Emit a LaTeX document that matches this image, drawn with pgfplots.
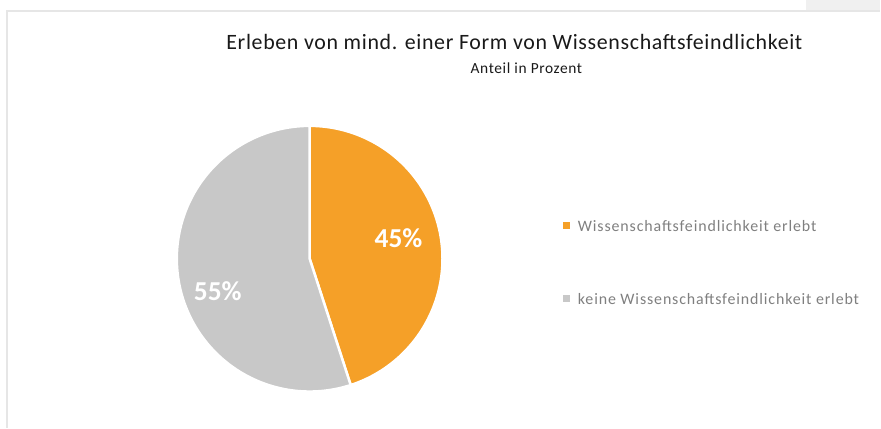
\documentclass[border=0pt]{standalone}
\usepackage{pgfplots}
\pgfplotsset{compat=1.18}
\usepackage{fontspec}
\setmainfont{Carlito}
\newfontfamily\titlefont[LetterSpace=3]{Carlito}
\newfontfamily\legfont[LetterSpace=5.5]{Carlito}
\newfontfamily\subfont[LetterSpace=4]{Carlito}
\definecolor{pieorange}{HTML}{F5A028}
\definecolor{piegray}{HTML}{C8C8C8}
\definecolor{legtext}{HTML}{7F7F7F}
\definecolor{framec}{HTML}{E6E6E6}
\definecolor{topbox}{HTML}{F0F0F0}
\begin{document}
\begin{tikzpicture}
\begin{axis}[
  width=881bp, height=428bp, scale only axis,
  xmin=0, xmax=881, ymin=0, ymax=428,
  hide axis, clip=false,
]
% full canvas for the bounding box
\path (axis cs:0,0) rectangle (axis cs:881,428);
% decoration: frame
\fill[topbox] (axis cs:807,418) rectangle (axis cs:881,428);
\draw[framec, line width=2bp] (axis cs:7,0) -- (axis cs:7,417) -- (axis cs:881,417);
% pie: 45 % / 55 %, centre (310,169), radius 133
\addplot[fill=pieorange, draw=white, line width=2.5bp, domain=90-3.6*45:90, samples=120, variable=\t]
  ({310+133*cos(\t)},{169+133*sin(\t)}) -- (axis cs:310,169) -- cycle;
\addplot[fill=piegray, draw=white, line width=2.5bp, domain=90-360:90-3.6*45, samples=140, variable=\t]
  ({310+133*cos(\t)},{169+133*sin(\t)}) -- (axis cs:310,169) -- cycle;
% labels
\node[white, font=\fontsize{27.5}{30}\selectfont\bfseries] at (axis cs:399,190) {45\%};
\node[white, font=\fontsize{27.5}{30}\selectfont\bfseries] at (axis cs:218,136) {55\%};
% titles
\node[black!90, font=\titlefont\fontsize{22}{26}\selectfont] at (axis cs:515,386) {Erleben von mind. einer Form von Wissenschaftsfeindlichkeit};
\node[black!90, font=\subfont\fontsize{15.5}{18}\selectfont] at (axis cs:527,360) {Anteil in Prozent};
% legend
\fill[pieorange] (axis cs:564,198.5) rectangle (axis cs:571,205.5);
\node[legtext, anchor=west, font=\legfont\fontsize{16}{19}\selectfont] at (axis cs:575,202) {Wissenschaftsfeindlichkeit erlebt};
\fill[piegray] (axis cs:564,125.5) rectangle (axis cs:571,132.5);
\node[legtext, anchor=west, font=\legfont\fontsize{16}{19}\selectfont] at (axis cs:575,129) {keine Wissenschaftsfeindlichkeit erlebt};
\end{axis}
\end{tikzpicture}
\end{document}
